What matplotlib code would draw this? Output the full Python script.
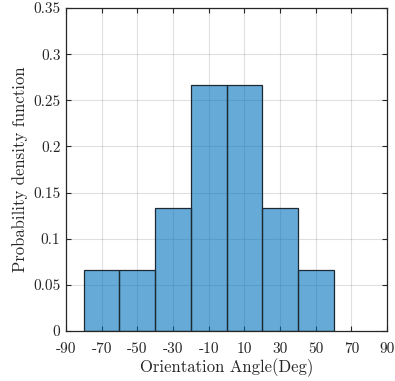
import numpy as np
import matplotlib
matplotlib.use("Agg")
import matplotlib.pyplot as plt

# datos del histograma (bordes de los bins y alturas)
bin_edges = [-80, -60, -40, -20, 0, 20, 40, 60]
heights = [0.0667, 0.0667, 0.1333, 0.2667, 0.2667, 0.1333, 0.0667]
xticks = [-90, -70, -50, -30, -10, 10, 30, 50, 70, 90]
yticks = [0, 0.05, 0.1, 0.15, 0.2, 0.25, 0.3, 0.35]
ytick_labels = ["0", "0.05", "0.1", "0.15", "0.2", "0.25", "0.3", "0.35"]

plt.rcParams["font.family"] = "cmr10"
plt.rcParams["axes.unicode_minus"] = False
plt.rcParams["axes.formatter.use_mathtext"] = True

fig = plt.figure(figsize=(3.95, 3.81), dpi=100)
ax = fig.add_axes([0.167, 0.131, 0.813, 0.848])

widths = np.diff(bin_edges)
lefts = np.array(bin_edges[:-1])
ax.bar(lefts, heights, width=widths, align="edge", color="#0072BD", alpha=0.6,
       linewidth=0, zorder=2)
ax.bar(lefts, heights, width=widths, align="edge", fill=False,
       edgecolor="#1e2a33", linewidth=0.9, zorder=3)

ax.set_xlim(-90, 90)
ax.set_ylim(0, 0.35)
ax.set_xticks(xticks)
ax.set_xticklabels([str(t) for t in xticks])
ax.set_yticks(yticks)
ax.set_yticklabels(ytick_labels)
ax.grid(True, color="#000000", alpha=0.12, linewidth=0.8, zorder=1)
ax.set_axisbelow(True)

ax.tick_params(direction="in", top=True, right=True, length=3.5, width=0.8,
               labelsize=11, colors="#262626", pad=4)
ax.tick_params(axis="x", pad=8)
for s in ax.spines.values():
    s.set_linewidth(0.9)
    s.set_color("#262626")

ax.set_xlabel("Orientation Angle(Deg)", fontsize=12, color="#262626", labelpad=2)
ax.set_ylabel("Probability density function", fontsize=12, color="#262626", labelpad=4)

fig.savefig("out.png", dpi=100)
